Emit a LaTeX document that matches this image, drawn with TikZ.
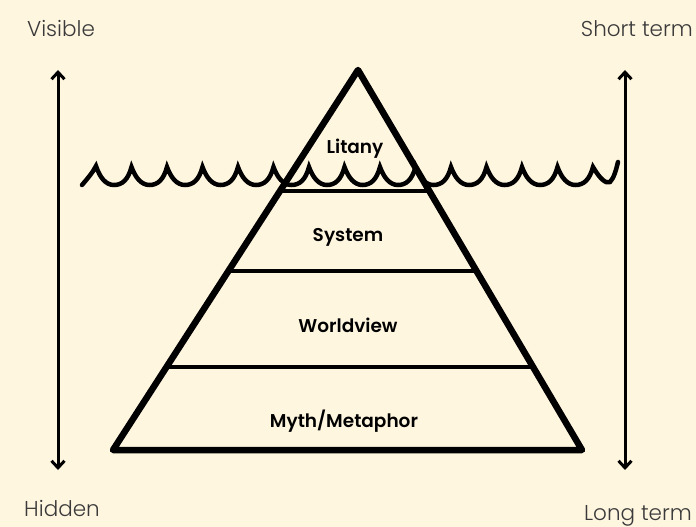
\documentclass[tikz,border=0pt]{standalone}
\usepackage{fontspec}
\setmainfont{Poppins}[UprightFont=* Light, BoldFont=* SemiBold]
\usetikzlibrary{arrows.meta,calc}
\definecolor{bgcream}{HTML}{FFF6E0}
\definecolor{labelgray}{HTML}{3A3A3A}
\begin{document}
\begin{tikzpicture}[x=1pt,y=-1pt,
  sidelabel/.style={font=\fontsize{21.5}{24}\selectfont, text=labelgray, inner sep=0pt},
  layerlabel/.style={font=\fontsize{18.5}{21}\selectfont\bfseries, text=black, inner sep=0pt},
  timearrow/.style={line width=3pt, {Straight Barb[length=7pt,width=13pt,line width=3pt]}-{Straight Barb[length=7pt,width=13pt,line width=3pt]}},
  pyredge/.style={line width=6.5pt, line join=round},
  divider/.style={line width=4pt},
  wave/.style={line width=4.5pt, line cap=round}]
\fill[bgcream] (0,0) rectangle (696,527);
\useasboundingbox (0,0) rectangle (696,527);
% side arrows
\coordinate (lt) at (58,70);
\coordinate (lb) at (58,470);
\coordinate (rt) at (625,70);
\coordinate (rb) at (625,470);
\draw[timearrow] (lb) -- (lt);
\draw[timearrow] (rb) -- (rt);
\node[sidelabel] (visible) at (61,29) {Visible};
\node[sidelabel] (hidden) at (62,508) {Hidden};
\node[sidelabel, anchor=east] (short) at (693,29) {Short term};
\node[sidelabel, anchor=east] (long) at (692,516) {Long term};
% pyramid
\coordinate (apex) at (358,70);
\coordinate (bl) at (113,450);
\coordinate (br) at (582,450);
\draw[divider] ($(apex)!0.3184!(bl)$) -- ($(apex)!0.3184!(br)$);
\draw[divider] ($(apex)!0.5289!(bl)$) -- ($(apex)!0.5289!(br)$);
\draw[divider] ($(apex)!0.7816!(bl)$) -- ($(apex)!0.7816!(br)$);
% wave
\draw[wave] (82,185) .. controls (88,178) and (93,172) .. (96,166)
  \foreach \k in {0,...,13} {
    .. controls ({96+35.5*\k+4},178) and ({96+35.5*\k+10},185) .. ({96+35.5*\k+18},185)
    .. controls ({96+35.5*\k+26},185) and ({96+35.5*\k+32},180) .. ({96+35.5*(\k+1)},167)
  }
  .. controls (600,179) and (606,184) .. (610,182) .. controls (614,178) and (616,170) .. (618,162);
\draw[pyredge] (apex) -- (bl) -- (br) -- cycle;
\node[layerlabel] (litany) at (355,149) {Litany};
\node[layerlabel] (system) at (348,237) {System};
\node[layerlabel] (worldview) at (348,325) {Worldview};
\node[layerlabel] (myth) at (344,421) {Myth/Metaphor};
\end{tikzpicture}
\end{document}
